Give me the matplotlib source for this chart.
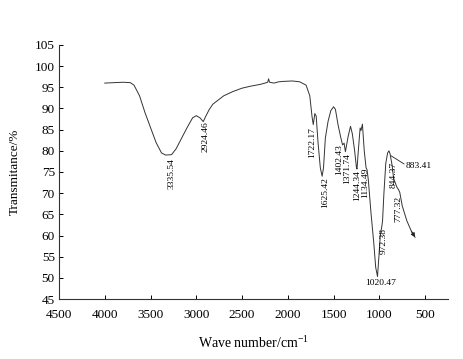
import numpy as np
import matplotlib
matplotlib.use('Agg')
import matplotlib.pyplot as plt

plt.rcParams['font.family'] = ['Liberation Serif', 'DejaVu Serif']

# FTIR spectrum
wavenumber = [4000, 3900, 3800, 3720, 3680, 3620, 3560, 3500, 3440, 3380, 3335, 3270,
              3220, 3160, 3100, 3040, 3000, 2960, 2924, 2900, 2860, 2820, 2760, 2700,
              2600, 2500, 2400, 2300, 2250, 2220, 2210, 2200, 2150, 2100, 2050, 1950,
              1870, 1800, 1760, 1735, 1722, 1705, 1690, 1670, 1645, 1625, 1610, 1590,
              1560, 1530, 1500, 1480, 1450, 1420, 1402, 1385, 1371, 1340, 1315, 1295,
              1270, 1250, 1244, 1230, 1210, 1200, 1185, 1165, 1145, 1134, 1120, 1090,
              1060, 1040, 1020, 1005, 990, 972, 965, 950, 930, 910, 895, 883,
              860, 844, 810, 790, 777, 750, 700, 650, 610]
transmittance = [96.0, 96.1, 96.2, 96.1, 95.5, 93.0, 89.0, 85.5, 82.0, 79.5, 79.0, 79.1,
                 80.5, 83.0, 85.5, 87.8, 88.3, 87.8, 86.9, 88.0, 89.7, 91.0, 92.0, 93.0,
                 94.0, 94.8, 95.3, 95.7, 96.0, 96.2, 97.0, 96.2, 96.0, 96.3, 96.4, 96.5,
                 96.3, 95.5, 93.0, 88.0, 86.2, 88.8, 88.2, 82.0, 76.0, 74.0, 76.0, 83.0,
                 87.0, 89.5, 90.4, 89.8, 86.0, 83.0, 81.4, 81.8, 79.8, 83.5, 85.8, 84.0,
                 80.0, 76.0, 75.7, 80.0, 85.4, 84.8, 86.3, 80.0, 76.0, 75.5, 73.0, 65.0,
                 58.0, 52.5, 50.3, 55.0, 60.0, 62.3, 63.5, 70.0, 77.0, 79.5, 80.0, 79.3,
                 76.5, 73.5, 71.5, 70.8, 70.2, 67.0, 63.5, 61.0, 59.6]

# peak labels (vertical ones)
peak_labels = ['3335.54', '2924.46', '1722.17', '1625.42', '1402.43', '1371.74',
               '1244.34', '1134.49', '972.38', '844.37', '777.32']
# where the top of each label sits (x, y in data units)
label_pos = [(3272, 78.3), (2897, 86.9), (1736, 85.7), (1595, 73.8), (1440, 81.6),
             (1350, 79.5), (1241, 75.5), (1150, 76.0), (950, 61.8), (849, 77.4),
             (789, 69.3)]

fig = plt.figure(figsize=(4.63, 3.59), dpi=100)
ax = fig.add_axes([0.1274, 0.1671, 0.8402, 0.7076])

ax.plot(wavenumber, transmittance, color='#333333', lw=0.7)
# arrow head at the end of the trace
ax.annotate('', xy=(wavenumber[-1], transmittance[-1]),
            xytext=(wavenumber[-2], transmittance[-2]),
            arrowprops=dict(arrowstyle='-|>', color='#222222', lw=0.7,
                            mutation_scale=6, shrinkA=0, shrinkB=0))

for lab, (lx, ly) in zip(peak_labels, label_pos):
    ax.text(lx, ly, lab, rotation=90, ha='center', va='top', fontsize=6.8)

ax.text(990, 48.8, '1020.47', ha='center', va='center', fontsize=6.8)
ax.plot([870, 730], [78.8, 76.9], color='#222222', lw=0.6)
ax.text(718, 76.4, '883.41', ha='left', va='center', fontsize=6.8)

ax.set_xlim(4500, 250)
ax.set_ylim(45, 105)
ax.set_xticks(np.arange(4500, 499, -500))
ax.set_yticks(np.arange(45, 106, 5))
ax.tick_params(direction='in', length=3, width=0.7, labelsize=9.5)
ax.tick_params(axis='x', pad=7)
ax.tick_params(axis='y', pad=3)
for s in ['top', 'right']:
    ax.spines[s].set_visible(False)
for s in ['left', 'bottom']:
    ax.spines[s].set_linewidth(0.8)
    ax.spines[s].set_color('#333333')

ax.set_xlabel('Wave number/cm$^{\\mathregular{-1}}$', fontsize=10, labelpad=10)
ax.set_ylabel('Transmitance/%', fontsize=9.5, labelpad=10)

fig.savefig('out.png', dpi=100)
